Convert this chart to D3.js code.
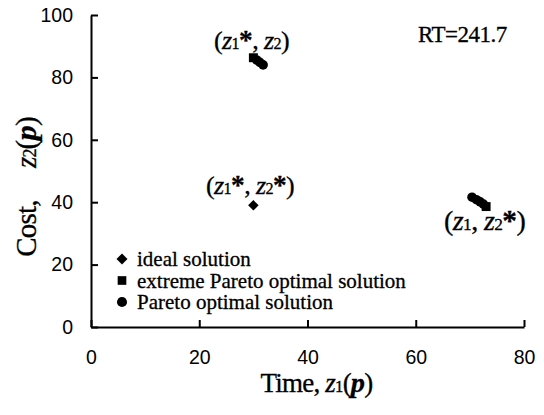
<!DOCTYPE html>
<html>
<head>
<meta charset="utf-8">
<script src="https://cdn.jsdelivr.net/npm/d3@7"></script>
<style>
  body { margin: 0; background: #fff; }
  svg { display: block; }
</style>
</head>
<body>
<div id="chart"></div>
<script>
// data
const xTicks = [0, 20, 40, 60, 80];
const yTicks = [0, 20, 40, 60, 80, 100];

const idealX = [30];
const idealY = [39];
const extremeX = [30, 73];
const extremeY = [86.3, 38.6];
const paretoX = [30.6, 31.2, 31.8, 70.4, 71.2, 71.9, 72.5];
const paretoY = [85.6, 84.8, 84.0, 41.6, 40.8, 40.1, 39.4];

const legendNames = ["ideal solution", "extreme Pareto optimal solution", "Pareto optimal solution"];
const rtLabel = "RT=241.7";

// set the dimensions of the graph
const width = 544, height = 415;
const margin = {top: 15, right: 20, bottom: 88, left: 91};

const svg = d3.select("#chart")
  .append("svg")
  .attr("width", width)
  .attr("height", height);

const x = d3.scaleLinear().domain([0, 80]).range([margin.left, width - margin.right]);
const y = d3.scaleLinear().domain([0, 100]).range([height - margin.bottom, margin.top]);

const serif = "'Liberation Serif', 'Times New Roman', serif";
const sans = "'Liberation Sans', Arial, sans-serif";

// X axis, ticks pointing in
const gx = svg.append("g")
  .attr("transform", `translate(0, ${y(0)})`)
  .call(d3.axisBottom(x).tickValues(xTicks).tickSizeInner(-7).tickSizeOuter(0).tickPadding(23));

// Y axis
const gy = svg.append("g")
  .attr("transform", `translate(${x(0)}, 0)`)
  .call(d3.axisLeft(y).tickValues(yTicks).tickSizeInner(-7).tickSizeOuter(0).tickPadding(18));

[gx, gy].forEach(g => {
  g.select(".domain").attr("stroke", "#000").attr("stroke-width", 2);
  g.selectAll(".tick line").attr("stroke", "#000").attr("stroke-width", 2);
  g.selectAll(".tick text").attr("font-family", sans).attr("font-size", 19.5).attr("fill", "#000");
});

// helper for labels like (z1*, z2)
function zLabel(g, parts) {
  parts.forEach(p => {
    const t = g.append("tspan").text(p.t);
    if (p.i) t.attr("font-style", "italic");
    if (p.s) t.attr("font-size", "0.62em");
    if (p.b) t.attr("font-weight", "bold").attr("font-size", "1.05em");
  });
}

// axis titles
const xt = svg.append("text")
  .attr("x", (x(0) + x(80)) / 2 + 9)
  .attr("y", 392)
  .attr("text-anchor", "middle")
  .attr("font-family", serif)
  .attr("font-size", 27)
  .attr("letter-spacing", -0.8)
  .attr("stroke", "#000").attr("stroke-width", 0.3);
zLabel(xt, [{t: "Time, "}, {t: "z", i: true}, {t: "1", s: true}, {t: "("}, {t: "p", i: true, b: true}, {t: ")"}]);

const yt = svg.append("text")
  .attr("transform", `translate(36, ${(y(0) + y(100)) / 2 + 16}) rotate(-90)`)
  .attr("text-anchor", "middle")
  .attr("font-family", serif)
  .attr("font-size", 29)
  .attr("letter-spacing", -0.8)
  .attr("stroke", "#000").attr("stroke-width", 0.3);
zLabel(yt, [{t: "Cost,\u00a0\u00a0\u00a0\u00a0\u00a0"}, {t: "z", i: true}, {t: "2", s: true}, {t: "("}, {t: "p", i: true, b: true}, {t: ")"}]);

// points
const sym = (type, size) => d3.symbol().type(type).size(size)();

svg.append("g").selectAll("path")
  .data(idealX.map((v, i) => [v, idealY[i]]))
  .join("path")
  .attr("transform", d => `translate(${x(d[0])}, ${y(d[1])}) rotate(45)`)
  .attr("d", sym(d3.symbolSquare, 55))
  .attr("fill", "#000");

svg.append("g").selectAll("circle")
  .data(paretoX.map((v, i) => [v, paretoY[i]]))
  .join("circle")
  .attr("cx", d => x(d[0]))
  .attr("cy", d => y(d[1]))
  .attr("r", 4.8)
  .attr("fill", "#000");

svg.append("g").selectAll("path")
  .data(extremeX.map((v, i) => [v, extremeY[i]]))
  .join("path")
  .attr("transform", d => `translate(${x(d[0])}, ${y(d[1])})`)
  .attr("d", sym(d3.symbolSquare, 80))
  .attr("fill", "#000");

// annotations
const ann = svg.append("g")
  .attr("font-family", serif)
  .attr("font-size", 26)
  .attr("letter-spacing", -0.6)
  .attr("fill", "#000")
  .attr("stroke", "#000").attr("stroke-width", 0.3);

zLabel(ann.append("text").attr("x", 214).attr("y", 49),
  [{t: "("}, {t: "z", i: true}, {t: "1", s: true}, {t: "*", b: true}, {t: ", "}, {t: "z", i: true}, {t: "2", s: true}, {t: ")"}]);
zLabel(ann.append("text").attr("x", 206).attr("y", 194),
  [{t: "("}, {t: "z", i: true}, {t: "1", s: true}, {t: "*", b: true}, {t: ", "}, {t: "z", i: true}, {t: "2", s: true}, {t: "*", b: true}, {t: ")"}]);
zLabel(ann.append("text").attr("x", 444).attr("y", 230).attr("font-size", 28),
  [{t: "("}, {t: "z", i: true}, {t: "1", s: true}, {t: ", "}, {t: "z", i: true}, {t: "2", s: true}, {t: "*", b: true}, {t: ")"}]);

svg.append("text")
  .attr("x", 418).attr("y", 42)
  .attr("font-family", serif)
  .attr("font-size", 23)
  .attr("letter-spacing", -0.5)
  .attr("stroke", "#000").attr("stroke-width", 0.3)
  .text(rtLabel);

// legend
const legend = svg.append("g");
const legendSyms = [d3.symbolSquare, d3.symbolSquare, d3.symbolCircle];
const legendSizes = [60, 75, 80];
const legendRot = [45, 0, 0];
legendNames.forEach((name, i) => {
  const ly = 259 + i * 21.5;
  legend.append("path")
    .attr("transform", `translate(122, ${ly}) rotate(${legendRot[i]})`)
    .attr("d", sym(legendSyms[i], legendSizes[i]))
    .attr("fill", "#000");
  legend.append("text")
    .attr("x", 137).attr("y", ly + 7)
    .attr("font-family", serif)
    .attr("font-size", 21)
    .attr("stroke", "#000").attr("stroke-width", 0.3)
    .text(name);
});
</script>
</body>
</html>
